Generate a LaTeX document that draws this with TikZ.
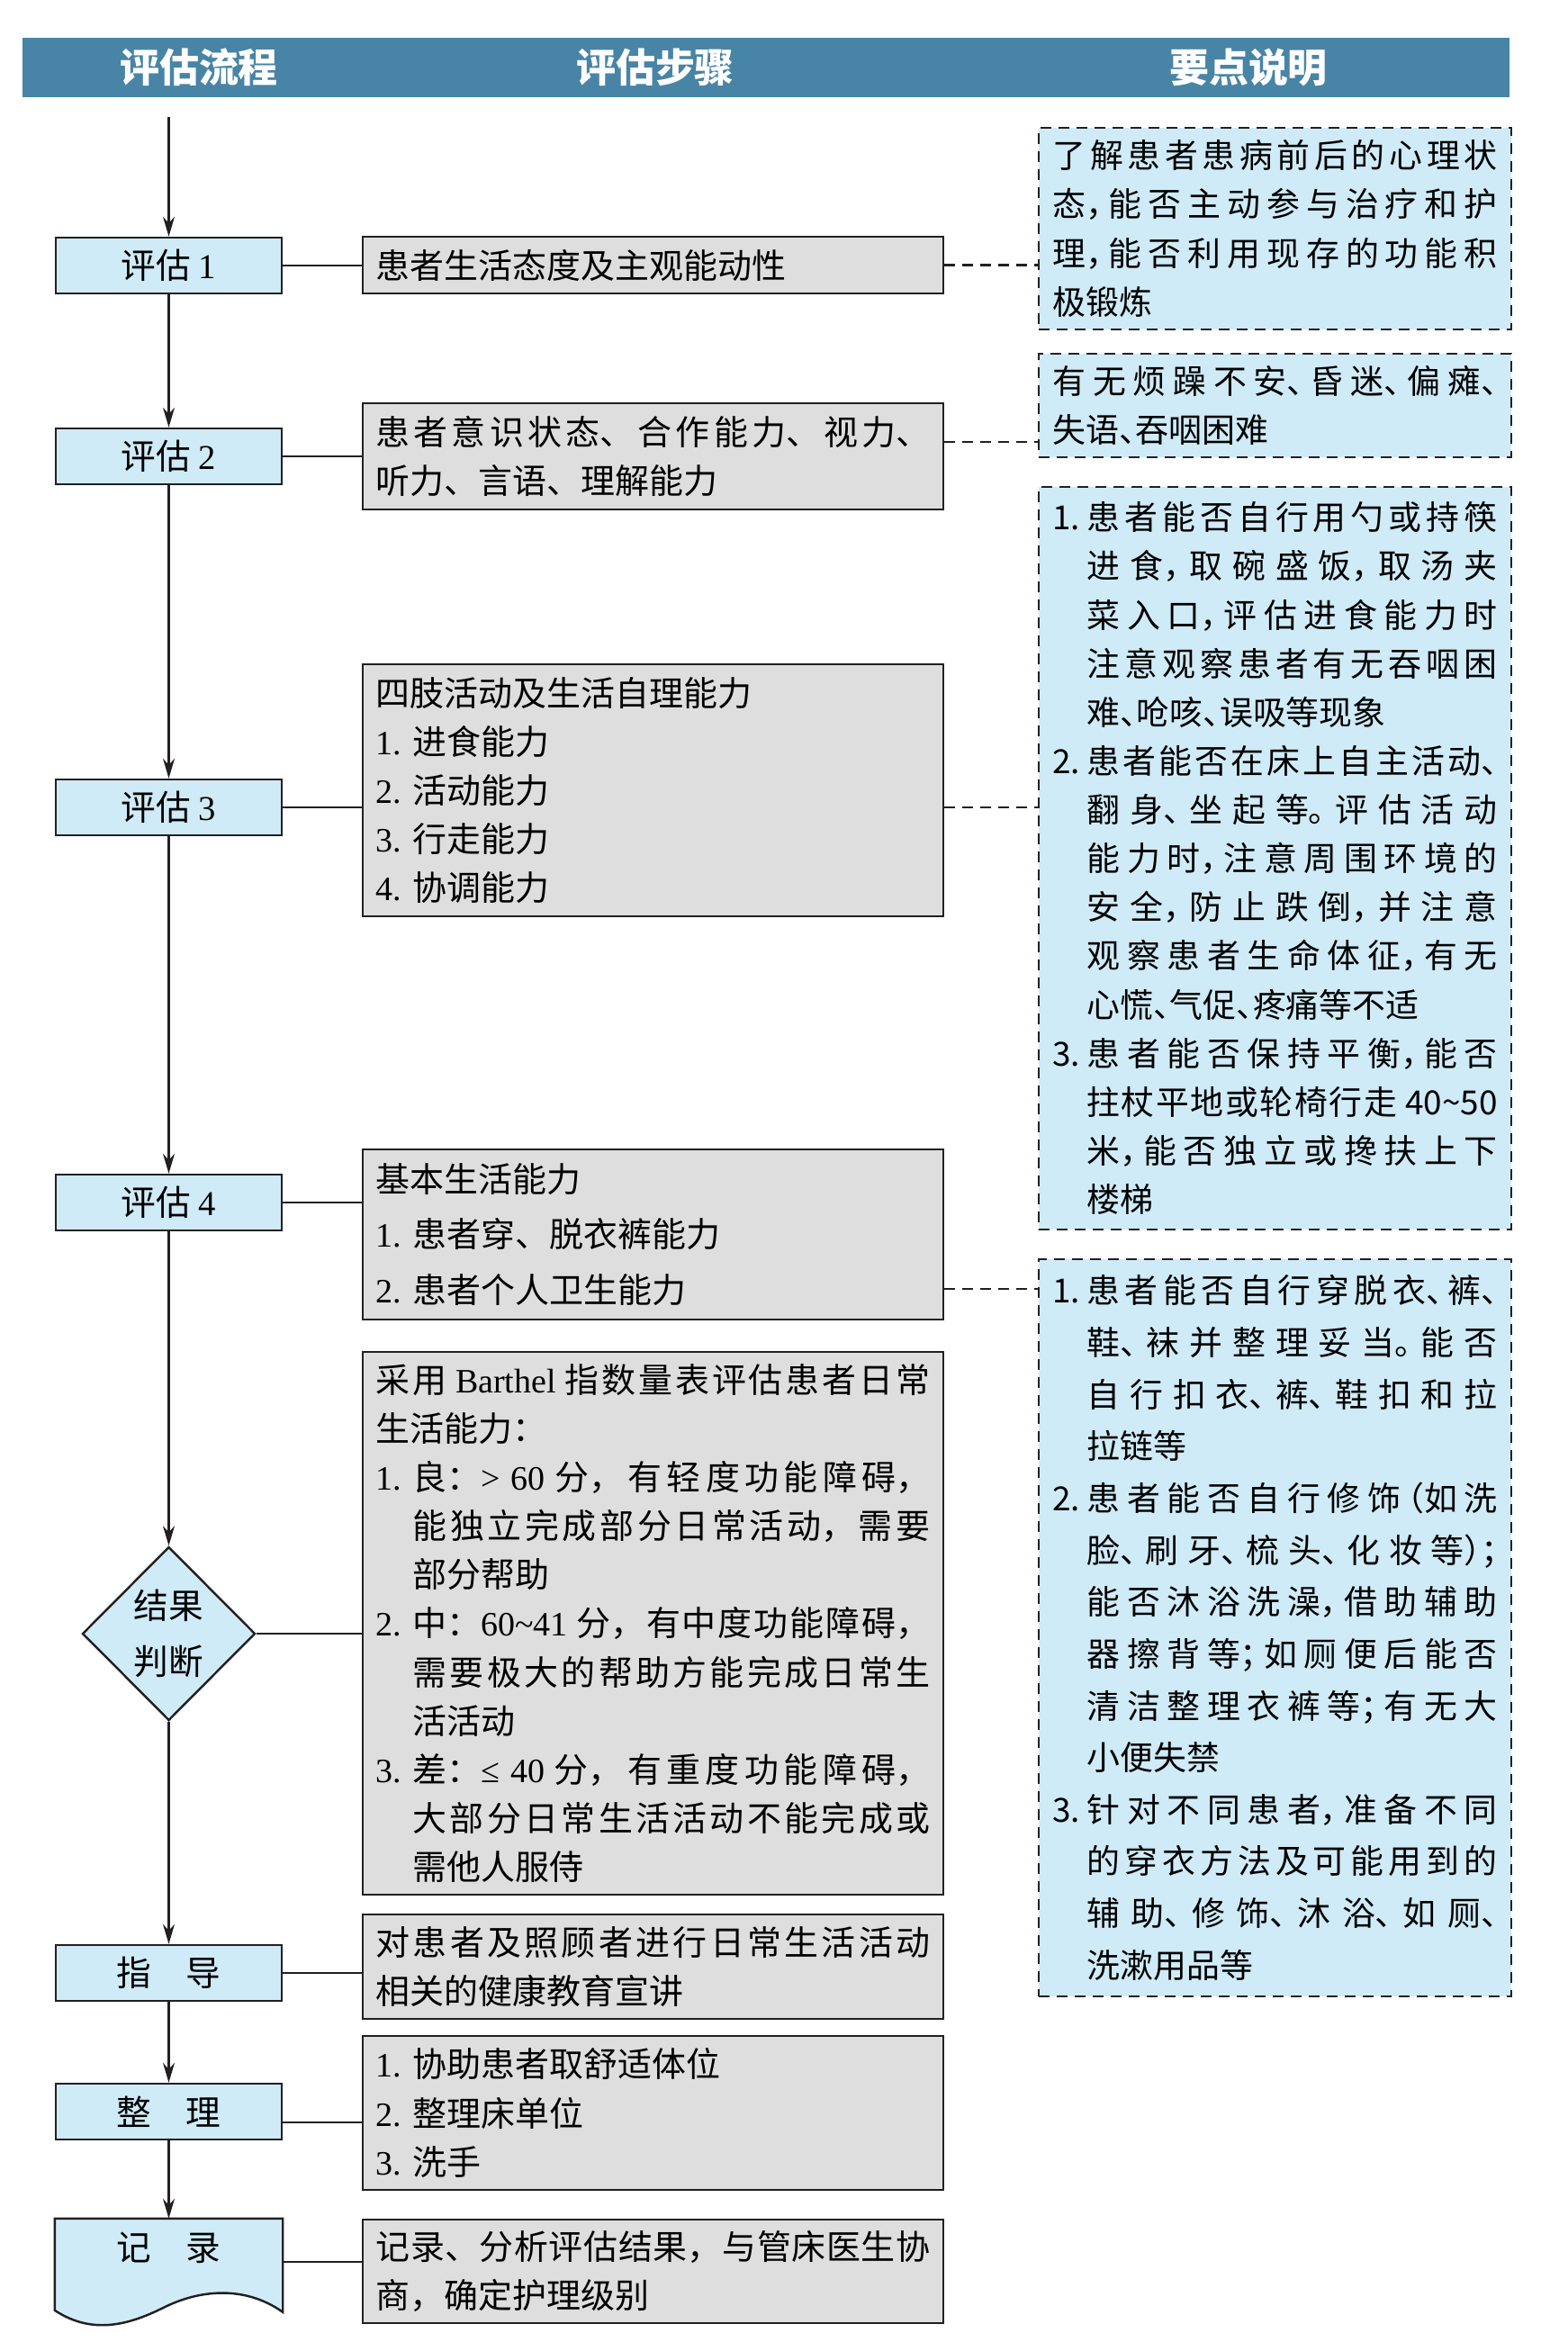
\documentclass[tikz,border=0pt]{standalone}
\usepackage{fontspec}
\setmainfont{Noto Sans CJK SC}
\newfontfamily\notefont{Noto Sans CJK SC}[RawFeature=+halt]
\newfontfamily\latf{Liberation Serif}
\usetikzlibrary{shapes.geometric, arrows.meta, positioning, calc, backgrounds}
\XeTeXlinebreaklocale "zh"
\XeTeXlinebreakskip=0pt plus 3pt minus 0.4pt
\definecolor{headblue}{RGB}{72,132,166}
\definecolor{flowblue}{RGB}{207,235,247}
\definecolor{stepgray}{RGB}{222,222,222}
\definecolor{linedark}{RGB}{35,31,32}
\newcommand\romn[1]{{\latf #1}}
% first numbered item of a box (no paragraph break before it)
\newcommand\firstnum[2][3.8mm]{\noindent\hangindent=#1\hangafter=1\makebox[#1][l]{#2}\ignorespaces}
\newcommand\numitem[2][3.8mm]{\par\firstnum[#1]{#2}}

\begin{document}
\begin{tikzpicture}[
  headtext/.style={text=white, font=\fontsize{12.5pt}{14pt}\selectfont\bfseries},
  flowbox/.style={draw=linedark, line width=0.7pt, fill=flowblue, minimum width=2.51cm, minimum height=0.62cm, inner sep=0pt, font=\fontsize{11pt}{13pt}\selectfont},
  judge/.style={diamond, draw=linedark, line width=0.7pt, fill=flowblue, minimum width=1.92cm, minimum height=1.93cm, inner sep=0pt, align=center, font=\fontsize{11pt}{17.5pt}\selectfont},
  stepbox/.style={draw=linedark, line width=0.7pt, fill=stepgray, text width=6.16cm, inner xsep=1.45mm, inner ysep=0pt, align=justify, font=\fontsize{10.8pt}{15.4pt}\selectfont},
  notebox/.style={draw=linedark, line width=0.6pt, dash pattern=on 1.2mm off 0.8mm, fill=flowblue, text width=4.94cm, inner xsep=1.55mm, inner ysep=0pt, align=justify, font=\notefont\fontsize{10.5pt}{15.5pt}\selectfont},
  flow/.style={draw=linedark, line width=0.6pt, -{Stealth[length=2.2mm, width=1.3mm]}},
  line/.style={draw=linedark, line width=0.7pt},
  note/.style={draw=linedark, line width=0.6pt, dash pattern=on 1.2mm off 0.8mm}
]
\useasboundingbox (0,0) rectangle (17.42,-26.12);

% Header
\node[fill=headblue, minimum width=16.52cm, minimum height=0.66cm, inner sep=0pt] (head) at (8.51,-0.75) {};
\node[headtext] (hflow) at (2.21,-0.75) {评估流程};
\node[headtext] (hstep) at (7.28,-0.75) {评估步骤};
\node[headtext] (hnote) at (13.87,-0.75) {要点说明};

% Flow
\coordinate (start) at (1.875,-1.30);
\node[flowbox] (f1) at (1.875,-2.95) {评估 \romn{1}};
\node[flowbox] (f2) at (1.875,-5.07) {评估 \romn{2}};
\node[flowbox] (f3) at (1.875,-8.97) {评估 \romn{3}};
\node[flowbox] (f4) at (1.875,-13.36) {评估 \romn{4}};
\node[judge] (jd) at (1.875,-18.15) {结果\\判断};
\node[flowbox] (f6) at (1.875,-21.92) {指\hspace{1em}导};
\node[flowbox] (f7) at (1.875,-23.46) {整\hspace{1em}理};
\node[flowbox, draw=none, fill=none] (f8) at (1.875,-24.97) {记\hspace{1em}录};
\begin{pgfonlayer}{background}
  \draw[line, fill=flowblue] (f8.north west) -- (f8.north east) -- ($(f8.north east)+(0,-1.04)$)
    .. controls ($(f8.north east)+(-0.425,-0.74)$) and ($(f8.north east)+(-0.925,-0.79)$) .. ($(f8.north east)+(-1.325,-0.99)$)
    .. controls ($(f8.north east)+(-1.725,-1.19)$) and ($(f8.north east)+(-2.125,-1.29)$) .. ($(f8.north west)+(0,-1.02)$) -- cycle;
\end{pgfonlayer}

% Steps
\node[stepbox, minimum height=0.63cm] (m1) at (7.255,-2.945) {患者生活态度及主观能动性};
\node[stepbox, minimum height=1.18cm] (m2) at (7.255,-5.07) {患者意识状态、合作能力、视力、\linebreak 听力、言语、理解能力};
\node[stepbox, minimum height=2.80cm] (m3) at (7.255,-8.78) {四肢活动及生活自理能力
  \numitem[4.1mm]{\romn{1.}}进食能力
  \numitem[4.1mm]{\romn{2.}}活动能力
  \numitem[4.1mm]{\romn{3.}}行走能力
  \numitem[4.1mm]{\romn{4.}}协调能力\par};
\node[stepbox, minimum height=1.89cm, font=\fontsize{10.8pt}{17.5pt}\selectfont] (m4) at (7.255,-13.715) {基本生活能力
  \numitem[4.1mm]{\romn{1.}}患者穿、脱衣裤能力
  \numitem[4.1mm]{\romn{2.}}患者个人卫生能力\par};
\node[stepbox, minimum height=6.03cm] (m5) at (7.255,-18.035) {采用 \romn{Barthel} 指数量表评估患者日常\linebreak 生活能力：
  \numitem[4.1mm]{\romn{1.}}良：\romn{> 60} 分，有轻度功能障碍，\linebreak 能独立完成部分日常活动，需要\linebreak 部分帮助
  \numitem[4.1mm]{\romn{2.}}中：\romn{60\textasciitilde 41} 分，有中度功能障碍，\linebreak 需要极大的帮助方能完成日常生\linebreak 活活动
  \numitem[4.1mm]{\romn{3.}}差：\romn{≤ 40} 分，有重度功能障碍，\linebreak 大部分日常生活活动不能完成或\linebreak 需他人服侍\par};
\node[stepbox, minimum height=1.16cm] (m6) at (7.255,-21.85) {对患者及照顾者进行日常生活活动\linebreak 相关的健康教育宣讲};
\node[stepbox, minimum height=1.71cm] (m7) at (7.255,-23.475) {\firstnum[4.1mm]{\romn{1.}}协助患者取舒适体位
  \numitem[4.1mm]{\romn{2.}}整理床单位
  \numitem[4.1mm]{\romn{3.}}洗手\par};
\node[stepbox, minimum height=1.15cm] (m8) at (7.255,-25.235) {记录、分析评估结果，与管床医生协\linebreak 商，确定护理级别};

% Notes
\node[notebox, minimum height=2.24cm] (r1) at (14.165,-2.54) {了解患者患病前后的心理状\linebreak 态，能否主动参与治疗和护\linebreak 理，能否利用现存的功能积\linebreak 极锻炼};
\node[notebox, minimum height=1.15cm] (r2) at (14.165,-4.505) {有无烦躁不安、昏迷、偏瘫、\linebreak 失语、吞咽困难};
\node[notebox, minimum height=8.25cm, font=\notefont\fontsize{10.5pt}{15.4pt}\selectfont] (r3) at (14.165,-9.535) {\firstnum{1.}患者能否自行用勺或持筷\linebreak 进食，取碗盛饭，取汤夹\linebreak 菜入口，评估进食能力时\linebreak 注意观察患者有无吞咽困\linebreak 难、呛咳、误吸等现象
  \numitem{2.}患者能否在床上自主活动、\linebreak 翻身、坐起等。评估活动\linebreak 能力时，注意周围环境的\linebreak 安全，防止跌倒，并注意\linebreak 观察患者生命体征，有无\linebreak 心慌、气促、疼痛等不适
  \numitem{3.}患者能否保持平衡，能否\linebreak 拄杖平地或轮椅行走 40\textasciitilde 50\linebreak 米，能否独立或搀扶上下\linebreak 楼梯\par};
\node[notebox, minimum height=8.19cm, font=\notefont\fontsize{10.5pt}{16.4pt}\selectfont] (r4) at (14.165,-18.085) {\firstnum{1.}患者能否自行穿脱衣、裤、\linebreak 鞋、袜并整理妥当。能否\linebreak 自行扣衣、裤、鞋扣和拉\linebreak 拉链等
  \numitem{2.}患者能否自行修饰（如洗\linebreak 脸、刷牙、梳头、化妆等）；\linebreak 能否沐浴洗澡，借助辅助\linebreak 器擦背等；如厕便后能否\linebreak 清洁整理衣裤等；有无大\linebreak 小便失禁
  \numitem{3.}针对不同患者，准备不同\linebreak 的穿衣方法及可能用到的\linebreak 辅助、修饰、沐浴、如厕、\linebreak 洗漱用品等\par};

% Connections
\draw[flow] (start) -- (f1);
\draw[flow] (f1) -- (f2);
\draw[flow] (f2) -- (f3);
\draw[flow] (f3) -- (f4);
\draw[flow] (f4) -- (jd);
\draw[flow] (jd) -- (f6);
\draw[flow] (f6) -- (f7);
\draw[flow] (f7) -- (f8);

\draw[line] (f1.east) -- (f1.east -| m1.west);
\draw[line] (f2.east) -- (f2.east -| m2.west);
\draw[line] (f3.east) -- (f3.east -| m3.west);
\draw[line] (f4.east) -- (f4.east -| m4.west);
\draw[line] (jd.east) -- (jd.east -| m5.west);
\draw[line] (f6.east) -- (f6.east -| m6.west);
\draw[line] ([yshift=-1.2mm]f7.east) -- ([yshift=-1.2mm]f7.east -| m7.west);
\draw[line] ([yshift=-1.6mm]f8.east) -- ([yshift=-1.6mm]f8.east -| m8.west);

\draw[note] (m1.east) -- (m1.east -| r1.west);
\draw[note] ([yshift=1.6mm]m2.east) -- ([yshift=1.6mm]m2.east -| r2.west);
\draw[note] (m3.east |- f3) -- (r3.west |- f3);
\draw[note] ([yshift=-6.05mm]m4.east) -- ([yshift=-6.05mm]m4.east -| r4.west);

\end{tikzpicture}
\end{document}
